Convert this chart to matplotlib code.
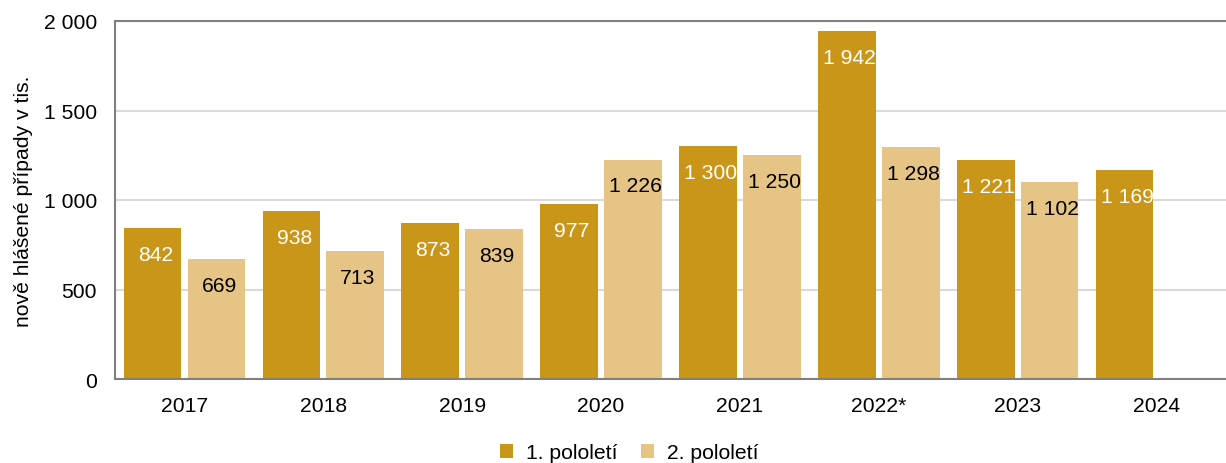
import matplotlib
matplotlib.use("Agg")
import matplotlib.pyplot as plt
import numpy as np

plt.rcParams['font.family'] = ['Liberation Sans', 'DejaVu Sans']

years = ["2017", "2018", "2019", "2020", "2021", "2022*", "2023", "2024"]
h1 = [842, 938, 873, 977, 1300, 1942, 1221, 1169]
h2 = [669, 713, 839, 1226, 1250, 1298, 1102, None]
series_names = ["1. pololetí", "2. pololetí"]
yticks = [0, 500, 1000, 1500, 2000]

c1 = "#C9961A"
c2 = "#E5C486"
fs = 15.2

def fmt(v):
    return f"{v:,}".replace(",", " ")

fig = plt.figure(figsize=(12.26, 4.64), dpi=100)
ax = fig.add_axes([115/1226, 1-380/464, 1-115/1226, 358/464])

x = np.arange(len(years))
w = 0.415
off = 0.23
for i, v in enumerate(h1):
    ax.bar(x[i]-off, v, w, color=c1, zorder=2, label=series_names[0] if i == 0 else None)
    ax.annotate(fmt(v), (x[i]-off, v), xytext=(2, -19), textcoords="offset points",
                ha="center", va="center", color="white", fontsize=fs, zorder=3)
for i, v in enumerate(h2):
    if v is None:
        continue
    ax.bar(x[i]+off, v, w, color=c2, zorder=2, label=series_names[1] if i == 0 else None)
    ax.annotate(fmt(v), (x[i]+off, v), xytext=(2, -19), textcoords="offset points",
                ha="center", va="center", color="black", fontsize=fs, zorder=3)

ax.set_xlim(-0.5, len(years)-0.5)
ax.set_ylim(0, 2000)
ax.set_xticks(x)
ax.set_xticklabels(years, fontsize=fs)
ax.set_yticks(yticks)
ax.set_yticklabels([fmt(t) for t in yticks], fontsize=fs)
ax.tick_params(axis='y', length=0, pad=13)
ax.tick_params(axis='x', length=0, pad=12)
ax.yaxis.grid(True, color="#D9D9D9", linewidth=1.5, zorder=0)
ax.set_axisbelow(True)
for s in ["left", "bottom", "top"]:
    ax.spines[s].set_color("#808080")
    ax.spines[s].set_linewidth(1.5)
ax.spines["right"].set_visible(False)
ax.set_ylabel("nově hlášené případy v tis.", fontsize=fs, labelpad=8)

fig.legend(loc="center", bbox_to_anchor=(629/1226, 1-454/464), ncol=2, frameon=False,
           fontsize=fs, handlelength=0.65, handleheight=0.65, columnspacing=1.1, handletextpad=0.6)

fig.savefig("out.png", dpi=100)
